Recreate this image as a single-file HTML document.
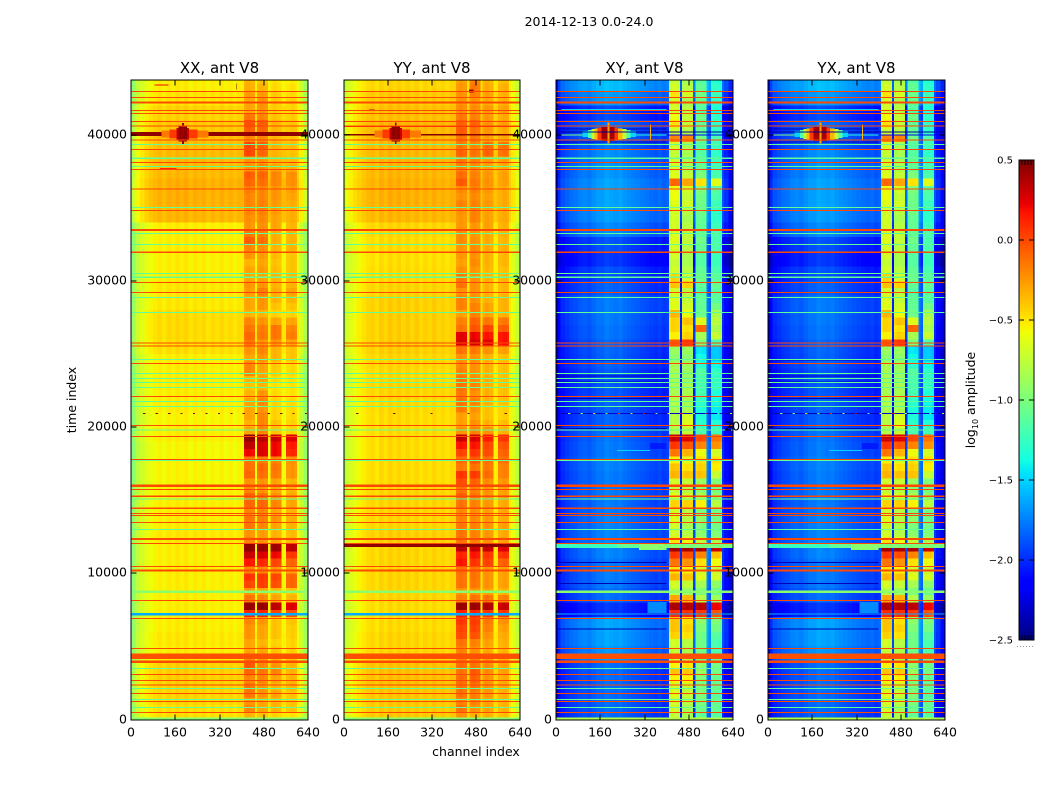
<!DOCTYPE html>
<html lang="en">
<head>
<meta charset="utf-8">
<title>2014-12-13 0.0-24.0</title>
<style>
html,body{margin:0;padding:0;background:#fff;width:1050px;height:800px;overflow:hidden}
svg{display:block}
text{font-family:"DejaVu Sans","Liberation Sans",sans-serif;fill:#000}
</style>
</head>
<body>
<svg id="chart" xmlns="http://www.w3.org/2000/svg" width="1050" height="800" viewBox="0 0 1050 800">
<rect x="0" y="0" width="1050" height="800" fill="#fff"/>
<text x="589" y="26" font-size="12.5" text-anchor="middle">2014-12-13 0.0-24.0</text>
<text transform="translate(76,400) rotate(-90)" font-size="12.5" text-anchor="middle">time index</text>
<text x="476" y="756" font-size="12.5" text-anchor="middle">channel index</text>
<text transform="translate(975,400) rotate(-90)" font-size="12.5" text-anchor="middle">log<tspan font-size="8" dy="3">10</tspan><tspan dy="-3"> amplitude</tspan></text>
<g id="panels"></g>
<g id="colorbar"></g>
</svg>
<script>
/* ---------- axes ---------- */
const xTickValues = [0, 160, 320, 480, 640];
const yTickValues = [0, 10000, 20000, 30000, 40000];
const colorTickValues = [0.5, 0.0, -0.5, -1.0, -1.5, -2.0, -2.5];
const colorTickLabels = ['0.5', '0.0', '\u22120.5', '\u22121.0', '\u22121.5', '\u22122.0', '\u22122.5'];
const panelTitles = ['XX, ant V8', 'YY, ant V8', 'XY, ant V8', 'YX, ant V8'];

/* ---------- categories: channel bin edges and the sub-band of each bin (-1 = no sub-band) ---------- */
const channelEdges = [0,8,16,32,48,64,80,96,112,128,144,160,176,192,208,224,240,256,272,288,304,320,336,352,368,384,400,408,416,432,448,456,464,480,496,504,512,528,544,552,560,576,592,600,608,624,640];
const bandOfBin = [-1,-1,-1,-1,-1,-1,-1,-1,-1,-1,-1,-1,-1,-1,-1,-1,-1,-1,-1,-1,-1,-1,-1,-1,-1,-1,-1,0,0,0,-1,1,1,1,-1,2,2,2,-1,-1,3,3,3,-1,-1,-1];

/* ---------- channel profiles: log10 amplitude outside the bands, offset inside the bands ---------- */
const xxProfile = [-0.98,-0.88,-0.76,-0.68,-0.62,-0.58,-0.55,-0.52,-0.56,-0.51,-0.54,-0.5,-0.53,-0.5,-0.55,-0.51,-0.54,-0.51,-0.56,-0.52,-0.55,-0.51,-0.55,-0.52,-0.56,-0.52,-0.53,-0.06,-0.03,-0.06,-0.55,-0.06,-0.03,-0.06,-0.55,-0.06,-0.03,-0.06,-0.56,-0.56,-0.06,-0.03,-0.06,-0.6,-0.72,-0.88];
const yyProfile = [-0.82,-0.72,-0.65,-0.59,-0.55,-0.51,-0.47,-0.45,-0.49,-0.43,-0.47,-0.42,-0.46,-0.42,-0.47,-0.43,-0.47,-0.43,-0.48,-0.44,-0.47,-0.43,-0.47,-0.44,-0.48,-0.44,-0.45,-0.05,-0.02,-0.05,-0.5,-0.05,-0.02,-0.05,-0.5,-0.05,-0.02,-0.05,-0.52,-0.5,-0.05,-0.02,-0.05,-0.54,-0.62,-0.74];
const crossProfile = [-2.42,-2.15,-2.02,-1.98,-1.94,-1.92,-1.88,-1.86,-1.88,-1.84,-1.8,-1.8,-1.76,-1.78,-1.8,-1.78,-1.82,-1.84,-1.86,-1.88,-1.9,-1.92,-1.94,-1.96,-1.94,-1.98,-1.95,-0.05,0.02,0.0,-2.05,-0.02,0.02,0.0,-1.95,-0.02,0.02,0.0,-1.75,-1.85,0.02,0.02,-0.03,-2.02,-2.12,-2.25];

/* ---------- time-bin background offsets: one value per 1000 samples, from t=0 upward ---------- */
const xxOffset = [0.05,0.08,0.1,0.1,0.0,0.02,0.0,0.0,0.0,0.0,0.0,0.0,0.02,0.0,0.0,0.0,-0.02,-0.02,-0.03,0.0,-0.02,0.0,0.0,0.0,0.0,0.05,0.06,0.06,0.02,0.02,0.0,0.0,0.0,0.0,0.18,0.2,0.2,0.17,0.17,0.16,0.12,0.09,0.03,0.0];
const yyOffset = [0.04,0.05,0.07,0.07,0.0,0.0,-0.02,-0.02,0.0,0.0,0.0,0.0,0.02,0.0,0.0,0.0,-0.02,-0.02,-0.02,-0.02,-0.02,-0.01,0.0,-0.01,0.0,0.02,0.02,0.02,0.02,0.0,-0.02,-0.03,-0.02,-0.0,0.1,0.12,0.12,0.1,0.1,0.1,0.1,0.07,0.04,0.0];
const crossOffset = [-0.03,-0.02,-0.02,-0.02,0.1,0.14,0.15,-0.18,-0.02,0.02,0.02,0.05,0.05,0.04,0.02,0.02,0.02,0.04,0.02,0.0,-0.05,-0.06,-0.08,-0.08,-0.05,-0.04,0.0,0.02,0.02,-0.05,-0.1,-0.18,-0.1,0.06,0.12,0.14,0.14,0.1,0.08,0.0,-0.02,-0.12,0.12,0.22];

/* ---------- sub-band amplitude per 500-sample time bin, from t=0 upward ---------- */
const xxBand = [
[-.3,-.35,-.4,-.45],[-.15,-.25,-.3,-.35],[-.2,-.25,-.3,-.35],[-.1,-.2,-.25,-.35],[-.1,-.2,-.3,-.3],[-.15,-.15,-.25,-.3],[-.05,-.1,-.15,-.3],[0,-.15,-.2,-.3],
[-.15,-.2,-.3,-.35],[-.25,-.25,-.35,-.4],[-.25,-.3,-.4,-.4],[-.2,-.25,-.35,-.38],[-.2,-.25,-.35,-.38],[-.15,-.2,-.35,-.35],[.15,.15,.05,.02],[.48,.48,.38,.3],
[-.1,-.15,-.25,-.3],[-.2,-.25,-.3,-.35],[.05,.08,.02,-.05],[.12,.1,.05,-.05],[-.15,-.15,-.2,-.25],[.2,.15,.05,-.05],[.35,.3,.25,.1],[.5,.48,.46,.38],
[-.15,-.2,-.25,-.3],[-.2,-.22,-.3,-.32],[-.1,-.15,-.25,-.3],[-.1,-.12,-.2,-.28],[-.15,-.15,-.25,-.3],[-.05,-.05,-.15,-.25],[-.05,-.1,-.2,-.28],[-.15,-.2,-.25,-.3],
[-.2,-.2,-.25,-.3],[-.05,-.08,-.12,-.2],[-.08,-.05,-.1,-.2],[-.1,-.12,-.15,-.2],[.25,.3,.25,.15],[.38,.3,.25,.2],[.5,.4,.35,.3],[-.25,-.15,-.35,-.4],
[-.3,-.15,-.35,-.4],[-.25,-.15,-.4,-.42],[-.25,-.2,-.4,-.42],[-.25,-.15,-.4,-.42],[-.3,-.2,-.42,-.45],[-.35,-.3,-.45,-.45],[-.3,-.25,-.42,-.45],[-.15,-.25,-.38,-.42],
[-.15,-.25,-.38,-.42],[-.25,-.2,-.3,-.35],[-.2,-.15,-.3,-.35],[-.1,-.2,-.2,-.25],[-.05,-.1,-.1,-.12],[-.1,-.12,-.1,-.15],[-.15,-.2,-.25,-.25],[-.3,-.3,-.4,-.4],
[-.25,-.2,-.35,-.35],[-.25,-.2,-.3,-.3],[-.22,-.12,-.28,-.25],[-.2,-.2,-.3,-.3],[-.25,-.25,-.3,-.32],[-.25,-.22,-.32,-.35],[-.3,-.25,-.35,-.35],[-.2,-.22,-.32,-.35],
[-.15,-.18,-.3,-.3],[-.02,-.08,-.28,-.3],[-.1,-.12,-.28,-.3],[-.2,-.18,-.25,-.3],[-.18,-.16,-.25,-.28],[-.15,-.14,-.22,-.28],[-.15,-.14,-.22,-.28],[-.15,-.15,-.2,-.25],
[-.12,-.15,-.2,-.22],[-.05,-.08,-.15,-.18],[-.02,-.05,-.15,-.18],[-.2,-.15,-.25,-.28],[-.2,-.2,-.3,-.32],[.05,-.05,-.3,-.35],[.05,-.02,-.28,-.32],[-.15,-.15,-.3,-.35],
[-.02,-.05,-.3,-.35],[.02,-.02,-.3,-.35],[-.1,-.15,-.35,-.38],[-.25,-.2,-.38,-.4],[-.25,-.2,-.38,-.4],[-.22,-.22,-.38,-.42],[-.28,-.3,-.42,-.45],[-.3,-.35,-.45,-.48]
];
const yyBand = [
[-.2,-.3,-.3,-.35],[-.1,-.2,-.25,-.3],[-.15,-.15,-.25,-.3],[-.1,-.15,-.22,-.3],[-.1,-.1,-.2,-.28],[-.08,-.05,-.2,-.28],[-.1,-.02,-.18,-.25],[-.08,-.1,-.18,-.25],
[-.15,-.15,-.22,-.3],[-.15,-.2,-.28,-.32],[-.1,-.15,-.25,-.3],[.02,.0,-.2,-.28],[.05,.05,-.15,-.25],[.1,.08,-.12,-.2],[.15,.15,.08,.08],[.46,.46,.4,.34],
[-.15,-.1,-.1,-.15],[-.2,-.2,-.25,-.3],[-.1,-.12,-.2,-.25],[-.1,-.1,-.2,-.25],[-.08,-.1,-.2,-.25],[.2,.1,.05,-.05],[.15,.2,.1,.1],[.38,.33,.35,.28],
[-.1,-.15,-.2,-.25],[-.1,-.15,-.22,-.28],[-.12,-.15,-.2,-.25],[-.15,-.18,-.22,-.28],[-.18,-.2,-.25,-.28],[-.1,-.15,-.22,-.28],[-.05,-.1,-.2,-.25],[-.1,-.15,-.2,-.25],
[.02,-.05,-.18,-.22],[.1,.08,-.08,-.15],[-.12,-.1,-.12,-.15],[-.08,-.02,-.1,-.1],[.05,.1,.02,-.05],[.2,.2,.05,.0],[.35,.3,.18,.1],[-.2,-.15,-.2,-.3],
[-.25,-.2,-.3,-.35],[-.25,-.25,-.35,-.4],[-.12,-.2,-.35,-.4],[-.1,-.15,-.3,-.35],[-.12,-.2,-.3,-.35],[-.1,-.15,-.3,-.35],[-.1,-.18,-.28,-.35],[-.15,-.2,-.3,-.35],
[-.18,-.2,-.3,-.35],[-.2,-.2,-.3,-.35],[-.1,-.12,-.2,-.25],[.3,.32,.28,.2],[.28,.25,.2,.2],[-.1,.0,.05,-.02],[-.15,-.05,-.12,-.12],[-.25,-.15,-.25,-.3],
[-.15,-.15,-.25,-.3],[-.15,-.2,-.3,-.3],[-.2,-.2,-.3,-.32],[-.1,-.2,-.3,-.32],[-.12,-.2,-.3,-.32],[-.2,-.22,-.32,-.35],[-.25,-.18,-.3,-.32],[-.22,-.2,-.3,-.32],
[-.22,-.18,-.28,-.3],[-.18,-.2,-.28,-.32],[-.18,-.22,-.28,-.3],[-.22,-.22,-.25,-.3],[-.22,-.15,-.25,-.28],[-.2,-.15,-.25,-.28],[-.15,-.15,-.22,-.28],[-.2,-.18,-.25,-.28],
[-.18,-.15,-.22,-.28],[-.02,-.12,-.2,-.25],[-.08,-.15,-.22,-.25],[-.15,-.18,-.25,-.28],[-.12,-.15,-.22,-.25],[-.05,-.1,-.05,-.1],[-.12,-.15,-.08,-.1],[-.1,-.12,-.25,-.28],
[-.02,-.1,-.22,-.28],[-.05,-.05,-.2,-.25],[-.12,-.15,-.22,-.28],[-.18,-.18,-.22,-.25],[-.2,-.22,-.28,-.3],[-.2,-.15,-.25,-.3],[-.22,-.12,-.28,-.3],[-.25,-.15,-.3,-.35]
];
const crossBand = [
[-.75,-.85,-1.1,-1.15],[-.7,-.85,-1.05,-1.1],[-.7,-.8,-1.0,-1.1],[-.65,-.75,-1.0,-1.15],[-.7,-.75,-1.0,-1.1],[-.55,-.55,-1.0,-1.1],[-.4,-.42,-.9,-1.05],[-.55,-.5,-.95,-1.05],
[-.7,-.8,-1.0,-1.1],[-.75,-.85,-1.05,-1.2],[-.7,-.8,-1.05,-1.2],[-.45,-.5,-1.05,-1.15],[-.4,-.45,-1.0,-1.05],[-.4,-.5,-.95,-1.0],[.1,.08,.05,-.05],[.38,.35,.33,.2],
[-.3,-.35,-.8,-.9],[-.8,-.9,-1.0,-1.1],[-.7,-.75,-.85,-.95],[-.35,-.4,-.65,-.7],[-.5,-.55,-.7,-.75],[-.15,-.25,-.5,-.6],[.05,-.02,-.2,-.4],[.42,.4,.38,.3],
[-.5,-.6,-.75,-.85],[-.7,-.8,-.95,-1.0],[-.7,-.85,-1.0,-1.05],[-.65,-.8,-.95,-1.05],[-.7,-.8,-1.0,-1.05],[-.45,-.45,-.55,-.8],[-.65,-.7,-.85,-.95],[-.75,-.8,-.95,-1.05],
[-.7,-.75,-.9,-1.0],[-.35,-.4,-.4,-.75],[-.4,-.5,-.45,-.55],[-.55,-.65,-.5,-.5],[-.15,-.35,-.6,-.7],[.05,-.05,-.2,-.25],[.3,.25,.0,-.15],[-.8,-.75,-1.2,-1.25],
[-.8,-.65,-1.3,-1.35],[-.8,-.7,-1.35,-1.45],[-.85,-.85,-1.35,-1.45],[-.8,-.85,-1.3,-1.4],[-.85,-.85,-1.2,-1.35],[-.85,-.85,-1.2,-1.3],[-.85,-.9,-1.2,-1.3],[-.85,-.9,-1.15,-1.3],
[-.85,-.9,-1.3,-1.4],[-.95,-.95,-1.4,-1.55],[-.9,-.9,-1.45,-1.55],[-.05,.05,-1.0,-1.2],[-.55,-.45,-.85,-.75],[-.45,-.5,-.1,-.85],[-.45,-.4,-.65,-.8],[-.35,-.6,-1.05,-.85],
[-.65,-.7,-1.1,-1.05],[-.65,-.75,-1.1,-1.15],[-.7,-.8,-1.15,-1.15],[-.4,-.45,-1.1,-1.1],[-.45,-.7,-1.05,-1.15],[-.7,-.8,-1.1,-1.2],[-.75,-.85,-1.15,-1.25],[-.7,-.85,-1.15,-1.25],
[-.7,-.8,-1.1,-1.2],[-.65,-.75,-1.05,-1.2],[-.65,-.75,-1.1,-1.2],[-.7,-.8,-1.1,-1.25],[-.7,-.85,-1.1,-1.3],[-.7,-.8,-1.05,-1.3],[-.65,-.7,-1.05,-1.25],[-.6,-.75,-1.05,-1.2],
[-.6,-.7,-1.0,-1.15],[-.1,-.3,-.5,-.65],[-.65,-.75,-1.0,-1.2],[-.7,-.85,-1.1,-1.25],[-.7,-.85,-1.1,-1.25],[-.75,-.85,-1.15,-1.3],[-.7,-.85,-1.15,-1.25],[-.2,-.2,-1.05,-1.2],
[-.7,-.8,-1.1,-1.3],[-.5,-.75,-1.1,-1.3],[-.6,-.75,-1.05,-1.3],[-.7,-.8,-1.15,-1.35],[-.7,-.85,-1.1,-1.3],[-.5,-.7,-1.05,-1.25],[-.7,-.8,-1.1,-1.3],[-.75,-.85,-1.15,-1.35]
];

/* ---------- flagged time lines shared by every panel ---------- */
const redLineTimes = [42940,42560,41640,41460,40890,40600,39640,39000,38110,37630,36300,34830,31960,29900,29220,25750,25550,24360,22100,20120,19370,17800,15740,15270,14450,14080,13970,13490,12050,10480,8150,6900,4870,3090,2680,2360,1790,1240,490];
const cyanLineTimes = [39320,38390,37840,35030,33250,32500,30490,30250,28880,27850,24640,23680,23340,23060,22720,21760,21420,19800,17700,15080,13010,3500,2130,1360,830];
const thickLineTimes = [42190,33480,15990,12350,10180,3950];
const bandLineStart = [4140];
const bandLineEnd = [4530];
const bandLineValue = [-0.02];
const floorLineValue = [-0.95];
const greenLineTimes = [8740];

/* ---------- panel-specific patches: channel start, channel end, time start, time end, value ---------- */
const xxPatches = [
[0,640,39910,40200,0.46],[110,280,39800,40300,-0.15],[140,240,39750,40350,0.05],[165,210,39650,40450,0.3],[172,203,39550,40550,0.46],[185,191,39350,40800,0.42],
[0,640,7120,7280,-1.62],
[105,165,37640,37710,0.1],[85,135,43380,43430,0.2],[380,382,43100,43500,0.45]
];
const yyPatches = [
[0,640,39930,40060,0.48],[0,640,40530,40640,0.1],[110,280,39800,40300,-0.15],[140,240,39750,40350,0.05],[165,210,39650,40450,0.3],[172,203,39550,40550,0.46],[185,191,39350,40850,0.42],
[0,640,11800,12070,0.46],[0,640,7120,7280,-1.62],[455,470,42900,43100,0.4],[90,110,41650,41720,0.3]
];
const xyPatches = [
[0,400,11720,12060,-1.25],[220,300,11720,12060,-1.1],[300,400,11600,12060,-0.95],[400,640,11720,12060,-1.0],
[95,290,39850,40250,-1.5],[115,270,39780,40320,-1.15],[128,255,39720,40380,-0.75],[140,240,39680,40420,-0.35],[150,225,39620,40480,0.05],[165,212,39560,40520,0.4],[187,193,39400,40850,-0.3],
[0,640,40150,40220,-2.45],[0,95,39930,40010,-1.0],[290,400,39930,40010,-1.3],[400,640,39930,40010,-2.2],
[340,344,39650,40700,-0.35],[0,640,7180,7260,-1.6],[20,400,41700,41740,-1.5],
[330,400,7300,8050,-1.72],[220,340,18350,18420,-1.5],[340,400,18500,18900,-2.05]
];
const yxPatches = [
[0,400,11720,12060,-1.25],[220,300,11720,12060,-1.1],[300,400,11600,12060,-0.95],[400,640,11720,12060,-1.0],
[95,290,39850,40250,-1.5],[115,270,39780,40320,-1.15],[128,255,39720,40380,-0.75],[140,240,39680,40420,-0.35],[150,225,39620,40480,0.05],[165,212,39560,40520,0.4],[187,193,39400,40850,-0.3],
[0,640,40150,40220,-2.45],[0,95,39930,40010,-1.0],[290,400,39930,40010,-1.3],[400,640,39930,40010,-2.2],
[340,344,39650,40700,-0.35],[0,640,7180,7260,-1.6],[20,400,41700,41740,-1.5],
[330,400,7300,8050,-1.72],[220,340,18350,18420,-1.5],[340,400,18500,18900,-2.05]
];

/* ---------- cross-hand dark lines and speckled row ---------- */
const darkLineTimes = [40400,39500,24600,23500,23100,21950,19900,10750,9300,6200];
const dottedRowTime = [20940];
const dottedRowChannels = [47,92,137,182,227,272,317,362,407,452,497,542,587,632];
const parallelDotValue = [0.45];
const crossDotValues = [-0.9,-1.1,-0.4,-1.0,0.1,-0.8,0.3,-1.2,-0.6,0.2,-1.0,0.3,-1.1,-0.8];

/* ---------- layout ---------- */
const NS = 'http://www.w3.org/2000/svg';
const panels = [
  {left:131, right:308, profile:xxProfile, offset:xxOffset, band:xxBand, patches:xxPatches, cross:false},
  {left:344, right:520, profile:yyProfile, offset:yyOffset, band:yyBand, patches:yyPatches, cross:false},
  {left:556, right:733, profile:crossProfile, offset:crossOffset, band:crossBand, patches:xyPatches, cross:true},
  {left:768, right:945, profile:crossProfile, offset:crossOffset, band:crossBand, patches:yxPatches, cross:true}
];
const plotTop = 80, plotBottom = 720;
const binSpan = 500, binCount = 88;

function yScale(t){ return Math.min(plotBottom, Math.max(plotTop, 719.5 - 0.01462 * t)); }
function xScale(ch, p){ return p.left + ch / 640 * (p.right - p.left); }
function lerp(stops, x){
  for (let i = 1; i < stops.length; i++) {
    if (x <= stops[i][0]) {
      const a = stops[i-1], b = stops[i];
      return a[1] + (b[1] - a[1]) * (x - a[0]) / (b[0] - a[0]);
    }
  }
  return stops[stops.length-1][1];
}
const jetR = [[0,0],[.35,0],[.66,1],[.89,1],[1,.5]];
const jetG = [[0,0],[.125,0],[.375,1],[.64,1],[.91,0],[1,0]];
const jetB = [[0,.5],[.11,1],[.34,1],[.65,0],[1,0]];
function colorScale(v){
  const n = Math.max(0, Math.min(1, (v + 2.5) / 3));
  return 'rgb(' + Math.round(lerp(jetR,n)*255) + ',' + Math.round(lerp(jetG,n)*255) + ',' + Math.round(lerp(jetB,n)*255) + ')';
}
function drawBlock(parent, p, c0, c1, t0, t1, value, minH){
  const el = document.createElementNS(NS, 'rect');
  const x0 = xScale(c0, p), x1 = xScale(c1, p);
  let y0 = yScale(t1), y1 = yScale(t0);
  if (minH && y1 - y0 < minH) { const m = (y0 + y1) / 2; y0 = m - minH / 2; y1 = m + minH / 2; }
  el.setAttribute('x', x0.toFixed(2));
  el.setAttribute('y', y0.toFixed(2));
  el.setAttribute('width', (x1 - x0).toFixed(2));
  el.setAttribute('height', (y1 - y0).toFixed(2));
  el.setAttribute('fill', colorScale(value));
  parent.appendChild(el);
  return el;
}
function drawLine(parent, x1, y1, x2, y2){
  const el = document.createElementNS(NS, 'line');
  el.setAttribute('x1', x1); el.setAttribute('y1', y1);
  el.setAttribute('x2', x2); el.setAttribute('y2', y2);
  el.setAttribute('stroke', '#000');
  el.setAttribute('stroke-width', '1');
  el.setAttribute('shape-rendering', 'crispEdges');
  parent.appendChild(el);
  return el;
}
function drawText(parent, x, y, str, size, anchor){
  const el = document.createElementNS(NS, 'text');
  el.setAttribute('x', x); el.setAttribute('y', y);
  el.setAttribute('font-size', size);
  el.setAttribute('text-anchor', anchor);
  el.textContent = str;
  parent.appendChild(el);
  return el;
}

const panelsRoot = document.getElementById('panels');
panels.forEach(function(p, pi){
  const g = document.createElementNS(NS, 'g');
  
  
  panelsRoot.appendChild(g);

  const heat = document.createElementNS(NS, 'g');
  heat.setAttribute('shape-rendering', 'crispEdges');
  
  
  g.appendChild(heat);

  /* heatmap cells */
  for (let r = 0; r < binCount; r++) {
    const t0 = r * binSpan, t1 = t0 + binSpan;
    const off = p.offset[Math.floor(r / 2)];
    for (let c = 0; c < bandOfBin.length; c++) {
      const b = bandOfBin[c];
      const v = b >= 0 ? p.band[r][b] + p.profile[c] : p.profile[c] + off;
      const cell = drawBlock(heat, p, channelEdges[c], channelEdges[c+1], r === 0 ? -40 : t0, t1, v, 0);
      
      
    }
  }

  /* dark lines on the cross-hand panels */
  if (p.cross) {
    darkLineTimes.forEach(function(t){
      const el = drawBlock(heat, p, 0, 400, t - 30, t + 30, -2.35, 1);
      
      
    });
  }

  /* patches: stars and strong single-time features */
  p.patches.forEach(function(q){
    const el = drawBlock(heat, p, q[0], q[1], q[2], q[3], q[4], 1);
    
    
  });

  /* flagged time lines */
  cyanLineTimes.forEach(function(t){
    const el = drawBlock(heat, p, 0, 640, t - 35, t + 35, -1.1, 1);
    
    
  });
  greenLineTimes.forEach(function(t){
    const el = drawBlock(heat, p, 0, 640, t - 70, t + 70, -0.95, 2);
    
    
  });
  redLineTimes.forEach(function(t){
    const el = drawBlock(heat, p, 0, 640, t - 35, t + 35, 0.0, 1);
    
    
  });
  thickLineTimes.forEach(function(t){
    const el = drawBlock(heat, p, 0, 640, t - 70, t + 70, 0.0, 2);
    
    
  });
  bandLineStart.forEach(function(t, i){
    const el = drawBlock(heat, p, 0, 640, t, bandLineEnd[i], bandLineValue[i], 1);
    
    
  });
  floorLineValue.forEach(function(v){
    const el = drawBlock(heat, p, 0, 640, -40, 150, p.cross ? -0.8 : v, 1);
    
    
  });

  /* speckled row */
  dottedRowTime.forEach(function(t){
    if (p.cross) {
      const base = drawBlock(heat, p, 0, 640, t - 30, t + 30, -2.3, 1);
      
      
    }
    dottedRowChannels.forEach(function(ch, i){
      const v = p.cross ? crossDotValues[i] : parallelDotValue[0];
      if (pi === 1 && i % 3 !== 0) return;
      const dot = drawBlock(heat, p, ch - 3, ch + 5, t - 30, t + 30, v, 1);
      
      
    });
  });

  /* frame */
  const frame = document.createElementNS(NS, 'rect');
  frame.setAttribute('x', p.left);
  frame.setAttribute('y', plotTop);
  frame.setAttribute('width', p.right - p.left);
  frame.setAttribute('height', plotBottom - plotTop);
  frame.setAttribute('fill', 'none');
  frame.setAttribute('stroke', '#000');
  frame.setAttribute('stroke-width', '1');
  frame.setAttribute('shape-rendering', 'crispEdges');
  
  
  g.appendChild(frame);

  /* title */
  const title = drawText(g, (p.left + p.right) / 2, 73, panelTitles[pi], 15, 'middle');
  
  

  /* x ticks */
  xTickValues.forEach(function(v){
    const x = Math.round(xScale(v, p));
    const a = drawLine(g, x, plotBottom, x, plotBottom - 5.5);
    
    
    const b = drawLine(g, x, plotTop, x, plotTop + 5.5);
    
    
    const lab = drawText(g, x, 736.5, String(v), 12.5, 'middle');
    
    
  });

  /* y ticks */
  yTickValues.forEach(function(v){
    const y = Math.round(yScale(v));
    const a = drawLine(g, p.left, y, p.left + 5.5, y);
    
    
    const b = drawLine(g, p.right, y, p.right - 5.5, y);
    
    
    const lab = drawText(g, p.left - 4, y + 3.5, String(v), 12.5, 'end');
    
    
  });
});

/* ---------- colorbar ---------- */
const cbar = document.getElementById('colorbar');
const cbLeft = 1019, cbRight = 1034, cbTop = 160, cbBottom = 640;
function cbY(v){ return cbBottom - (v + 2.5) / 3 * (cbBottom - cbTop); }
for (let i = 0; i < 240; i++) {
  const el = document.createElementNS(NS, 'rect');
  const v0 = -2.5 + i / 240 * 3;
  el.setAttribute('x', cbLeft);
  el.setAttribute('y', cbY(v0 + 3 / 240).toFixed(2));
  el.setAttribute('width', cbRight - cbLeft);
  el.setAttribute('height', '2');
  el.setAttribute('fill', colorScale(v0 + 1.5 / 240));
  el.setAttribute('shape-rendering', 'crispEdges');
  
  
  cbar.appendChild(el);
}
const cbFrame = document.createElementNS(NS, 'rect');
cbFrame.setAttribute('x', cbLeft);
cbFrame.setAttribute('y', cbTop);
cbFrame.setAttribute('width', cbRight - cbLeft);
cbFrame.setAttribute('height', cbBottom - cbTop);
cbFrame.setAttribute('fill', 'none');
cbFrame.setAttribute('stroke', '#000');
cbFrame.setAttribute('shape-rendering', 'crispEdges');


cbar.appendChild(cbFrame);
colorTickValues.forEach(function(v, i){
  const y = Math.round(cbY(v));
  if (i > 0 && i < colorTickValues.length - 1) {
    const a = drawLine(cbar, cbLeft, y, cbLeft + 5, y);
    
    
    const b = drawLine(cbar, cbRight, y, cbRight - 5, y);
    
    
  }
  const lab = drawText(cbar, 1013, y + 3.5, colorTickLabels[i], 10, 'end');
  
  
});
[1022, 1025, 1028, 1031].forEach(function(x){
  const a = drawLine(cbar, x, cbTop, x, cbTop + 5);
  
  
  const b = drawLine(cbar, x, cbBottom, x, cbBottom - 5);
  
  
});
const cbDots = document.createElementNS(NS, 'line');
cbDots.setAttribute('x1', 1017);
cbDots.setAttribute('y1', 646.5);
cbDots.setAttribute('x2', 1035);
cbDots.setAttribute('y2', 646.5);
cbDots.setAttribute('stroke', '#999');
cbDots.setAttribute('stroke-dasharray', '1 2');


cbar.appendChild(cbDots);
</script>
</body>
</html>
